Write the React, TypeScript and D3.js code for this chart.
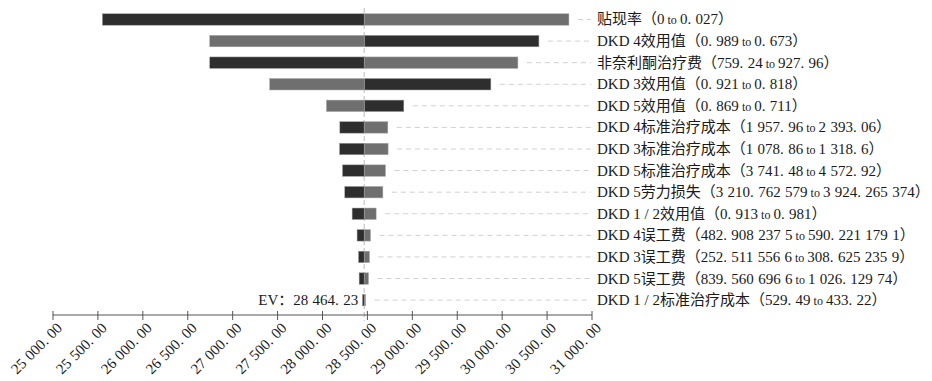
import * as d3 from "d3";

// tornado chart, expected value at base case 28 464.23
const baseEV = 28464.23;

const paramNames = [
  "贴现率",
  "DKD 4效用值",
  "非奈利酮治疗费",
  "DKD 3效用值",
  "DKD 5效用值",
  "DKD 4标准治疗成本",
  "DKD 3标准治疗成本",
  "DKD 5标准治疗成本",
  "DKD 5劳力损失",
  "DKD 1 / 2效用值",
  "DKD 4误工费",
  "DKD 3误工费",
  "DKD 5误工费",
  "DKD 1 / 2标准治疗成本",
];
const rangeFrom = [
  "0", "0. 989", "759. 24", "0. 921", "0. 869", "1 957. 96", "1 078. 86",
  "3 741. 48", "3 210. 762 579", "0. 913", "482. 908 237 5", "252. 511 556 6",
  "839. 560 696 6", "529. 49",
];
const rangeTo = [
  "0. 027", "0. 673", "927. 96", "0. 818", "0. 711", "2 393. 06", "1 318. 6",
  "4 572. 92", "3 924. 265 374", "0. 981", "590. 221 179 1", "308. 625 235 9",
  "1 026. 129 74", "433. 22",
];
// EV when parameter takes the first value (dark) / second value (grey)
const evFirst = [25550, 30409, 26745, 29874, 28905, 28193, 28190, 28223, 28248, 28330, 28385, 28401, 28408, 28445];
const evSecond = [30743, 26745, 30175, 27412, 28044, 28727, 28730, 28701, 28672, 28597, 28534, 28523, 28512, 28480];

const xTicks = [25000, 25500, 26000, 26500, 27000, 27500, 28000, 28500, 29000, 29500, 30000, 30500, 31000];
const xTickLabels = [
  "25 000. 00", "25 500. 00", "26 000. 00", "26 500. 00", "27 000. 00", "27 500. 00",
  "28 000. 00", "28 500. 00", "29 000. 00", "29 500. 00", "30 000. 00", "30 500. 00", "31 000. 00",
];
const evLabel = "EV：28 464. 23";

const W = 932;
const H = 381;
const font = "'Liberation Serif', 'Noto Sans CJK SC', serif";
const DARK = "#2e2e2e";
const GREY = "#6f6f6f";

export default function App() {
  const x = d3.scaleLinear().domain([25000, 31000]).range([53, 592]);
  const y = d3
    .scaleBand<number>()
    .domain(d3.range(paramNames.length))
    .range([8.7, 310.9])
    .paddingInner(0.47)
    .paddingOuter(0.235);
  const axisY = 315;
  const labelX = 597;
  const cx = x(baseEV);
  const numStyle = { wordSpacing: "0.6px" };

  return (
    <svg
      width={W}
      height={H}
      style={{ position: "absolute", left: 0, top: 0, background: "#fff" }}
      fontFamily={font}
    >
      {/* center line */}
      <line x1={cx} x2={cx} y1={8} y2={321} stroke="#c8c8c8" strokeWidth={1.2} strokeDasharray="5,3" />

      {paramNames.map((name, i) => {
        const yc = y(i)! + y.bandwidth() / 2;
        const a = evFirst[i];
        const b = evSecond[i];
        const right = x(Math.max(a, b));
        return (
          <g key={name}>
            <line
              x1={right + 9}
              x2={labelX - 6}
              y1={yc}
              y2={yc}
              stroke="#d0d0d0"
              strokeWidth={1}
              strokeDasharray="5,4"
            />
            <rect
              x={Math.min(x(a), cx)}
              y={y(i)}
              width={Math.abs(x(a) - cx)}
              height={y.bandwidth()}
              fill={DARK}
              stroke="#9a9a9a"
              strokeWidth={0.5}
            />
            <rect
              x={Math.min(x(b), cx)}
              y={y(i)}
              width={Math.abs(x(b) - cx)}
              height={y.bandwidth()}
              fill={GREY}
              stroke="#a5a5a5"
              strokeWidth={0.5}
            />
            <text x={labelX} y={yc + 5} fontSize={15} fill="#1a1a1a">
              <tspan>{name}（</tspan>
              <tspan style={numStyle}>{rangeFrom[i]}</tspan>
              <tspan fontSize={12} dx={3}>to</tspan>
              <tspan dx={3} style={numStyle}>{rangeTo[i]}）</tspan>
            </text>
          </g>
        );
      })}

      <text x={cx - 6} y={305} textAnchor="end" fontSize={15} fill="#1a1a1a" style={numStyle}>
        {evLabel}
      </text>

      {/* x axis */}
      <line x1={x(25000)} x2={x(31000)} y1={axisY} y2={axisY} stroke="#555" strokeWidth={1.2} />
      {xTicks.map((t, i) => (
        <g key={t} transform={`translate(${x(t)},${axisY})`}>
          <line y1={-4} y2={5} stroke="#555" strokeWidth={1} />
          <text
            transform="translate(10,14) rotate(-45)"
            textAnchor="end"
            fontSize={15}
            fill="#1a1a1a"
            style={numStyle}
          >
            {xTickLabels[i]}
          </text>
        </g>
      ))}
    </svg>
  );
}
